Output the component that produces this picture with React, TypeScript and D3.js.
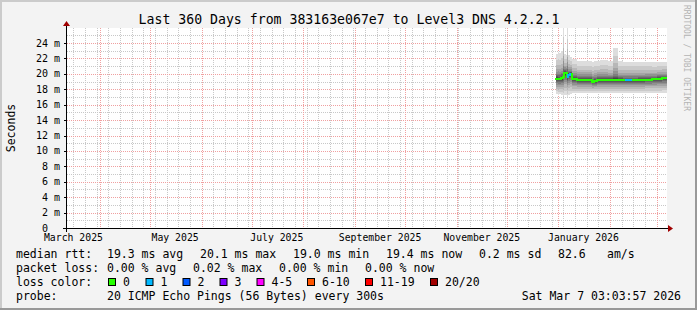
import React from 'react';
import * as d3 from 'd3';

// ---------- data ----------
const END = new Date(Date.UTC(2026, 2, 7, 3, 3, 57));
const SPAN_DAYS = 360;
const titleText = 'Last 360 Days from 383163e067e7 to Level3 DNS 4.2.2.1';

// smoke buckets (start time of each bucket), values in ms
const bucketDates = [
  '2025-12-30T12:00Z', '2025-12-31T18:00Z', '2026-01-01T12:00Z', '2026-01-02T12:00Z',
  '2026-01-03T12:00Z', '2026-01-04T12:00Z', '2026-01-05T06:00Z', '2026-01-06T06:00Z',
  '2026-01-07T00:00Z', '2026-01-08T00:00Z', '2026-01-09T00:00Z', '2026-01-12T00:00Z',
  '2026-01-16T00:00Z', '2026-01-20T00:00Z', '2026-01-21T00:00Z', '2026-01-22T12:00Z',
  '2026-01-24T00:00Z', '2026-01-26T00:00Z', '2026-01-31T00:00Z', '2026-02-02T12:00Z',
  '2026-02-06T00:00Z', '2026-02-09T00:00Z', '2026-02-10T12:00Z', '2026-02-15T00:00Z',
  '2026-02-18T00:00Z', '2026-02-22T00:00Z', '2026-02-26T00:00Z', '2026-03-01T00:00Z',
  '2026-03-04T00:00Z', '2026-03-07T03:03:57Z',
];
const medianMs = [
  19.35, 19.3, 19.3, 19.4, 19.6, 20.1, 20.05, 19.6, 19.9, 19.95, 19.3, 19.2,
  19.2, 19.2, 19.0, 19.05, 19.2, 19.15, 19.15, 19.15, 19.15, 19.15, 19.15, 19.15,
  19.2, 19.25, 19.3, 19.35, 19.4, 19.4,
];
const maxMs = [
  22.6, 22.8, 22.7, 22.9, 26.5, 22.6, 22.5, 26.2, 22.4, 22.2, 21.9, 21.7,
  21.7, 21.7, 21.6, 21.7, 21.7, 21.8, 21.7, 23.3, 21.7, 21.6, 21.6, 21.6,
  21.6, 21.6, 21.5, 21.5, 21.6, 21.6,
];
const minMs = [
  17.4, 17.3, 17.4, 17.3, 17.1, 17.3, 17.3, 17.0, 17.3, 17.4, 17.5, 17.55,
  17.55, 17.55, 17.5, 17.5, 17.55, 17.55, 17.55, 17.55, 17.55, 17.55, 17.55, 17.55,
  17.55, 17.55, 17.55, 17.55, 17.55, 17.55,
];
const lostPings = [
  0, 0, 0, 0, 0, 0, 0, 0, 1, 1, 0, 0,
  0, 0, 0, 0, 0, 0, 0, 0, 0, 0, 1, 0,
  0, 0, 0, 0, 0, 0,
];
// shape of the 20-ping distribution (fraction of the distance median->max / median->min)
const upperShape = [1, 0.75, 0.54, 0.39, 0.29, 0.21, 0.15, 0.1, 0.06, 0.025];
const lowerShape = [1, 0.84, 0.67, 0.52, 0.4, 0.3, 0.21, 0.13, 0.07, 0.025];

const yMajor = [0, 2, 4, 6, 8, 10, 12, 14, 16, 18, 20, 22, 24];
const yMinor = [1, 3, 5, 7, 9, 11, 13, 15, 17, 19, 21, 23, 25];
const xLabelMonths = ['2025-03-01', '2025-05-01', '2025-07-01', '2025-09-01', '2025-11-01', '2026-01-01'];
const xLabelTexts = ['March 2025', 'May 2025', 'July 2025', 'September 2025', 'November 2025', 'January 2026'];

const lossLabels = ['0', '1', '2', '3', '4-5', '6-10', '11-19', '20/20'];
const lossColors = ['#26ff00', '#00b8ff', '#0059ff', '#7e00ff', '#ff00ff', '#ff5500', '#ff0000', '#a10000'];

const rttLabels = ['19.3 ms avg', '20.1 ms max', '19.0 ms min', '19.4 ms now', '0.2 ms sd'];
const lossStats = ['0.00 % avg', '0.02 % max', '0.00 % min', '0.00 % now'];
const probeText = '20 ICMP Echo Pings (56 Bytes) every 300s';
const stampText = 'Sat Mar  7 03:03:57 2026';

// ---------- layout ----------
const W = 697, H = 310;
const X0 = 67, X1 = 667, Y0 = 228, Y1 = 28;
const MONO = '"DejaVu Sans Mono", monospace';

export default function App() {
  const start = new Date(END.getTime() - SPAN_DAYS * 86400e3);
  const x = d3.scaleUtc().domain([start, END]).range([X0, X1]);
  const y = d3.scaleLinear().domain([0, 200 / 7.708]).range([Y0, Y1]);

  const dates = bucketDates.map((s) => new Date(s));
  const n = dates.length - 1; // last date closes the final bucket

  // smoke layers
  const layers = upperShape.map((uf, i) => {
    const lf = lowerShape[i];
    const pts: [number, number, number][] = [];
    for (let k = 0; k <= n; k++) {
      const kk = Math.min(k, n - 1);
      const m = medianMs[kk];
      pts.push([x(dates[k]), y(m + uf * (maxMs[kk] - m)), y(m - lf * (m - minMs[kk]))]);
    }
    const area = d3.area<[number, number, number]>()
      .x((d) => d[0]).y0((d) => d[2]).y1((d) => d[1]).curve(d3.curveStepAfter);
    const g = Math.round((190 / 10) * (10 - (i + 1))) + 50;
    return { d: area(pts) || '', color: `rgb(${g},${g},${g})` };
  });

  // median segments coloured by loss
  const medSegs = d3.range(n).map((k) => {
    const xa = x(dates[k]);
    const xb = x(dates[k + 1]);
    const ym = y(medianMs[k]);
    const yp = k > 0 ? y(medianMs[k - 1]) : ym;
    const li = lostPings[k];
    const ci = li <= 3 ? li : li <= 5 ? 4 : li <= 10 ? 5 : li <= 19 ? 6 : 7;
    return { d: `M${xa},${yp}V${ym}H${xb}`, color: lossColors[ci] };
  });

  const weeks = d3.utcSunday.range(start, END);
  const months = d3.utcMonth.range(start, END);

  const rowY = [258, 272, 286, 300];
  const rttX = [107, 200, 293, 386, 479];
  const lossX = [107, 193, 279, 365];
  const boxX = [108, 145.5, 182.5, 219.5, 256.5, 307, 365, 430];

  return (
    <svg width={W} height={H} style={{ display: 'block', position: 'absolute', left: 0, top: 0 }}
      fontFamily={MONO}>
      <rect x={0} y={0} width={W} height={H} fill="#f3f3f3" />
      <rect x={0} y={0} width={W} height={2} fill="#cbcbcb" />
      <rect x={0} y={0} width={2} height={H} fill="#cbcbcb" />
      <rect x={W - 2} y={0} width={2} height={H} fill="#999999" />
      <rect x={0} y={H - 2} width={W} height={2} fill="#999999" />
      <rect x={X0} y={Y1} width={X1 - X0} height={Y0 - Y1} fill="#ffffff" />

      {/* grid */}
      <g shapeRendering="crispEdges" strokeWidth={1} strokeDasharray="1,1">
        {yMinor.map((v) => (
          <line key={'ym' + v} x1={X0} x2={X1} y1={Math.round(y(v)) + 0.5} y2={Math.round(y(v)) + 0.5} stroke="#c8c8c8" />
        ))}
        {weeks.map((w) => (
          <line key={'xw' + w.getTime()} x1={Math.round(x(w)) + 0.5} x2={Math.round(x(w)) + 0.5} y1={Y1} y2={Y0} stroke="#c8c8c8" />
        ))}
        {yMajor.filter((v) => v > 0).map((v) => (
          <line key={'yM' + v} x1={X0} x2={X1} y1={Math.round(y(v)) + 0.5} y2={Math.round(y(v)) + 0.5} stroke="#f0a0a0" />
        ))}
        {months.map((m) => (
          <line key={'xM' + m.getTime()} x1={Math.round(x(m)) + 0.5} x2={Math.round(x(m)) + 0.5} y1={Y1} y2={Y0} stroke="#f0a0a0" />
        ))}
      </g>

      {/* smoke */}
      <g shapeRendering="crispEdges">
        <clipPath id="plotclip"><rect x={X0} y={Y1} width={X1 - X0} height={Y0 - Y1} /></clipPath>
        <g clipPath="url(#plotclip)">
          {layers.map((l, i) => <path key={i} d={l.d} fill={l.color} />)}
          {medSegs.map((s, i) => (
            <path key={'m' + i} d={s.d} fill="none" stroke={s.color} strokeWidth={2} strokeLinecap="square" />
          ))}
        </g>
      </g>

      {/* axes */}
      <g shapeRendering="crispEdges" stroke="#000">
        <line x1={X0 - 4} x2={X1 + 2} y1={Y0 + 0.5} y2={Y0 + 0.5} />
        <line x1={X0 - 0.5} x2={X0 - 0.5} y1={Y0 + 4} y2={Y1 - 3} />
        {yMajor.map((v) => (
          <line key={'t' + v} x1={X0 - 3} x2={X0} y1={Math.round(y(v)) + 0.5} y2={Math.round(y(v)) + 0.5} />
        ))}
      </g>
      <path d={`M${X1 + 1},${Y0 - 3}L${X1 + 6},${Y0 + 0.5}L${X1 + 1},${Y0 + 4}Z`} fill="#a00000" />
      <path d={`M${X0 - 4},${Y1 - 2}L${X0 - 0.5},${Y1 - 7}L${X0 + 3},${Y1 - 2}Z`} fill="#a00000" />

      {/* y labels */}
      <g fontSize={10} fill="#000" textAnchor="end">
        {yMajor.map((v) => (
          <text key={'yl' + v} x={v === 0 ? 48 : 60} y={y(v) + 3.5}>{v === 0 ? '0' : `${v} m`}</text>
        ))}
      </g>
      {/* x labels */}
      <g fontSize={9.8} fill="#000" textAnchor="middle">
        {xLabelMonths.map((m, i) => (
          <text key={m} x={x(d3.utcDay.offset(new Date(m + 'T00:00Z'), 15))} y={241}>{xLabelTexts[i]}</text>
        ))}
      </g>

      <text x={349} y={24} fontSize={13.2} textAnchor="middle" fill="#000">{titleText}</text>
      <text transform="translate(15,128) rotate(-90)" fontSize={11.5} textAnchor="middle" fill="#000">Seconds</text>
      <text transform="translate(684,5) rotate(90)" fontSize={8} fill="#b4b4b4">RRDTOOL / TOBI OETIKER</text>

      {/* legend */}
      <g fontSize={11.5} fill="#000" style={{ whiteSpace: 'pre' }}>
        <text x={16} y={rowY[0]}>median rtt:</text>
        {rttLabels.map((t, i) => <text key={t} x={rttX[i]} y={rowY[0]}>{t}</text>)}
        <text x={558} y={rowY[0]}>82.6</text>
        <text x={607} y={rowY[0]}>am/s</text>

        <text x={16} y={rowY[1]}>packet loss:</text>
        {lossStats.map((t, i) => <text key={t} x={lossX[i]} y={rowY[1]}>{t}</text>)}

        <text x={16} y={rowY[2]}>loss color:</text>
        {lossLabels.map((t, i) => (
          <g key={t}>
            <rect x={boxX[i] + 0.5} y={278.5} width={7} height={7} fill={lossColors[i]} stroke="#000" strokeWidth={1} />
            <text x={boxX[i] + 15} y={rowY[2]}>{t}</text>
          </g>
        ))}

        <text x={16} y={rowY[3]}>probe:</text>
        <text x={107} y={rowY[3]}>{probeText}</text>
        <text x={681} y={rowY[3]} textAnchor="end">{stampText}</text>
      </g>
    </svg>
  );
}
